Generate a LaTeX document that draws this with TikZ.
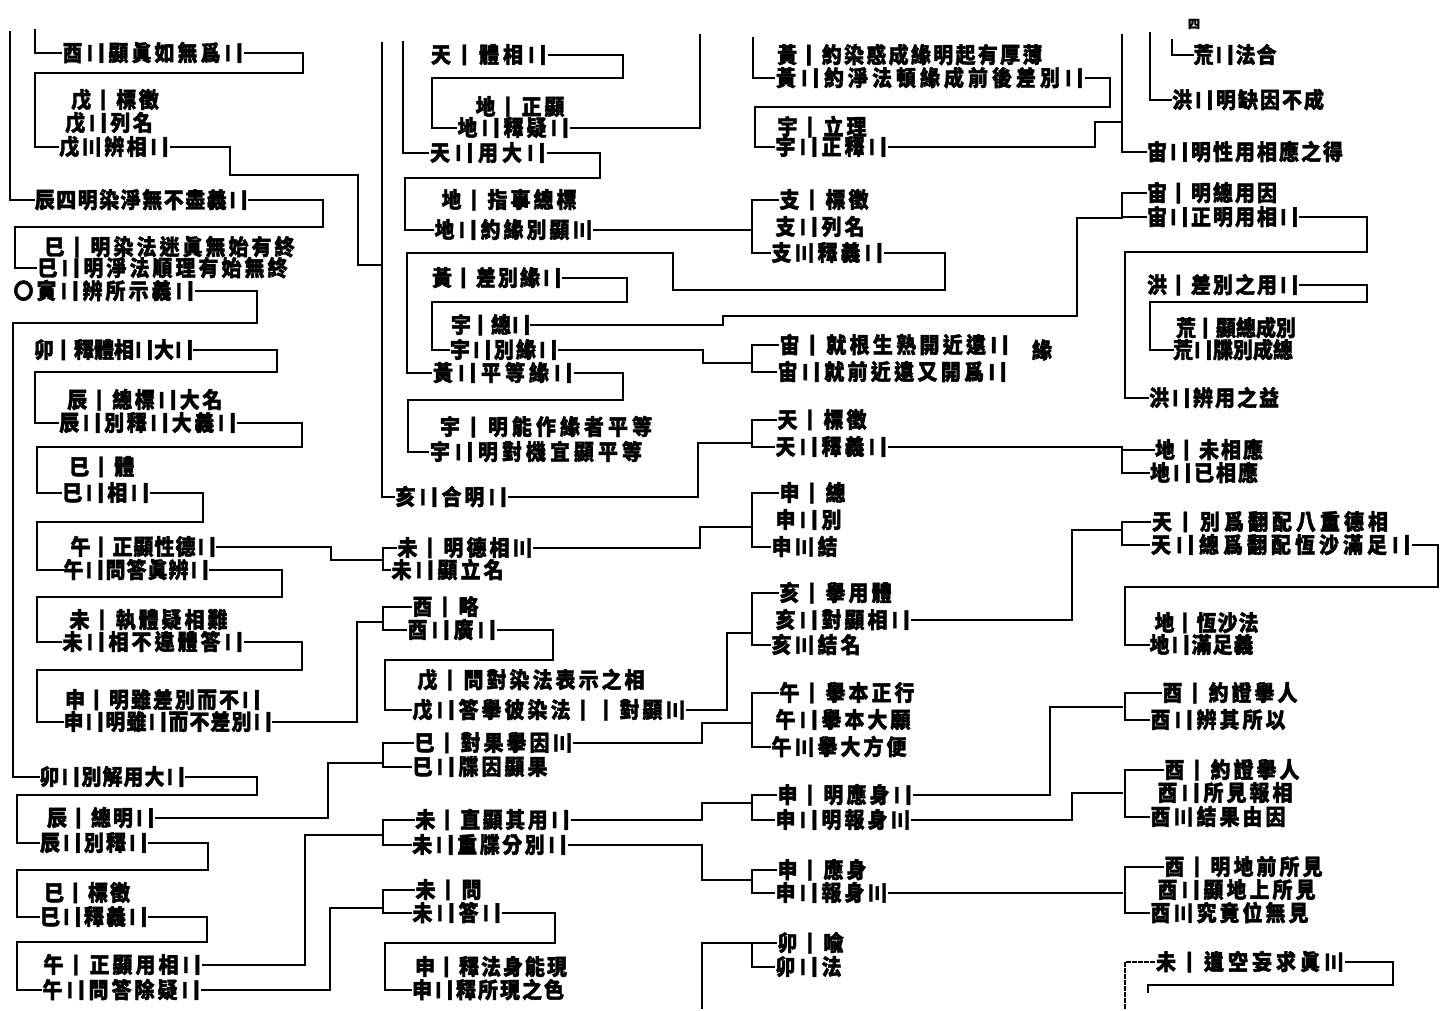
\documentclass[tikz,border=0pt]{standalone}
\usepackage{fontspec}
\newfontfamily\cjk{Noto Sans CJK TC}[FakeBold=1.8]
\newlength\cw
\setlength\cw{22.5pt}
\newcommand\numA{\rotatebox[origin=c]{90}{\vphantom{國}一}}
\newcommand\numB{\rotatebox[origin=c]{90}{\vphantom{國}二}}
\newcommand\numC{\rotatebox[origin=c]{90}{\vphantom{國}三}}
\makeatletter
\newcommand\crow[1]{\crow@#1\@nil}
\def\crow@#1{\ifx#1\@nil\else\makebox[\cw]{\scalebox{1}[1.1]{#1}}\expandafter\crow@\fi}
\makeatother
\tikzset{
  row/.style={anchor=west, inner sep=0pt, outer sep=0pt, font={\cjk\bfseries\fontsize{20pt}{20pt}\selectfont}},
  ln/.style={line width=1.6pt, line cap=rect},
}
\newcommand\R[4]{\node[row] (#1) at (#2) {\setlength\cw{#3pt}\crow{#4}};}
\begin{document}
\begin{tikzpicture}[x=1pt,y=-1pt]
\fill[white] (0,0) rectangle (1452,1011);
\useasboundingbox (0,0) rectangle (1452,1011);

% ---------------- column 1 ----------------
\R{c1a}{61,53}{23}{酉\numB 顯眞如無爲\numB}
\R{c1b1}{70,100}{22.5}{戊\numA 標徵}
\R{c1b2}{64,123}{22.5}{戊\numB 列名}
\R{c1b3}{58,147}{22.5}{戊\numC 辨相\numB}
\R{c1e}{34,200}{21.5}{辰四明染淨無不盡義\numB}
\R{c1f1}{43,247}{23}{巳\numA 明染法迷眞無始有終}
\R{c1f2}{36,268}{23}{巳\numB 明淨法順理有始無終}
\R{c1g}{12,291}{23}{〇寅\numB 辨所示義\numB}
\R{c1h}{34,350}{20}{卯\numA 釋體相\numB 大\numB}
\R{c1i1}{66,400}{22.5}{辰\numA 總標\numB 大名}
\R{c1i2}{58,423}{22.5}{辰\numB 別釋\numB 大義\numB}
\R{c1j1}{68,467}{22.5}{巳\numA 體}
\R{c1j2}{61,493}{22.5}{巳\numB 相\numB}
\R{c1k1}{70,547}{21}{午\numA 正顯性德\numB}
\R{c1k2}{63,570}{21}{午\numB 問答眞辨\numB}
\R{c1l1}{68,620}{23}{未\numA 執體疑相難}
\R{c1l2}{61,642}{23}{未\numB 相不違體答\numB}
\R{c1m1}{64,700}{22}{申\numA 明雖差別而不\numB}
\R{c1m2}{63,722}{21}{申\numB 明雖\numB 而不差別\numB}
\R{c1n}{39,777}{21}{卯\numB 別解用大\numB}
\R{c1o1}{46,818}{22}{辰\numA 總明\numB}
\R{c1o2}{39,843}{22}{辰\numB 別釋\numB}
\R{c1p1}{43,893}{22}{巳\numA 標徵}
\R{c1p2}{39,917}{22}{巳\numB 釋義\numB}
\R{c1q1}{42,965}{23}{午\numA 正顯用相\numB}
\R{c1q2}{41,990}{23}{午\numB 問答除疑\numB}

\draw[ln] (10,32) |- (c1e.west);
\draw[ln] (35,30) |- (c1a.west);
\draw[ln] (c1a.east) -| (303,73) -- (35,73) |- (c1b3.west);
\draw[ln] (c1b3.east) -| (230,175) -- (358,175) |- (382,265);
\draw[ln] (c1e.east) -| (323,227) -- (15,227) |- (c1f2.west);
\draw[ln] (c1g.east) -| (257,323) -- (13,323) |- (c1n.west);
\draw[ln] (c1h.east) -| (277,372) -- (35,372) |- (c1i2.west);
\draw[ln] (c1i2.east) -| (302,447) -- (37,447) |- (c1j2.west);
\draw[ln] (c1j2.east) -| (203,522) -- (37,522) |- (c1k2.west);
\draw[ln] (c1k1.east) -| (331,560) -- (383,560);
\draw[ln] (c1k2.east) -| (282,597) -- (37,597) |- (c1l2.west);
\draw[ln] (c1l2.east) -| (302,670) -- (37,670) |- (c1m2.west);
\draw[ln] (c1m2.east) -| (357,622) -- (383,622);
\draw[ln] (c1n.east) -| (257,795) -- (17,795) |- (c1o2.west);
\draw[ln] (c1o1.east) -| (328,763) -- (383,763);
\draw[ln] (c1o2.east) -| (208,870) -- (17,870) |- (c1p2.west);
\draw[ln] (c1p2.east) -| (207,942) -- (17,942) |- (c1q2.west);
\draw[ln] (c1q1.east) -| (305,835) -- (383,835);
\draw[ln] (c1q2.east) -| (330,908) -- (383,908);

% ---------------- column 2 ----------------
\R{c2a}{429,55}{24}{天\numA 體相\numB}
\R{c2b1}{474,107}{23}{地\numA 正顯}
\R{c2b2}{456,128}{23}{地\numB 釋疑\numB}
\R{c2c}{428,153}{24}{天\numB 用大\numB}
\R{c2d1}{440,200}{23}{地\numA 指事總標}
\R{c2d2}{433,230}{23}{地\numB 約緣別顯\numC}
\R{c2f}{431,278}{22}{黃\numA 差別緣\numB}
\R{c2h1}{451,325}{20}{宇\numA 總\numB}
\R{c2h2}{449,350}{22}{宇\numB 別緣\numB}
\R{c2g}{431,373}{24}{黃\numB 平等緣\numB}
\R{c2i1}{438,427}{24}{宇\numA 明能作緣者平等}
\R{c2i2}{428,452}{24}{宇\numB 明對機宜顯平等}
\R{c2j}{394,497}{23}{亥\numB 合明\numB}
\R{c2k1}{396,548}{23}{未\numA 明德相\numC}
\R{c2k2}{390,570}{23}{未\numB 顯立名}
\R{c2l1}{411,607}{23}{酉\numA 略}
\R{c2l2}{406,630}{23}{酉\numB 廣\numB}
\R{c2m1}{416,680}{23}{戊\numA 問對染法表示之相}
\R{c2m2}{411,710}{23}{戊\numB 答擧彼染法\numA\numA 對顯\numC}
\R{c2n1}{413,743}{23}{巳\numA 對果擧因\numC}
\R{c2n2}{411,767}{23}{巳\numB 牒因顯果}
\R{c2o1}{414,820}{22.5}{未\numA 直顯其用\numB}
\R{c2o2}{411,845}{22.5}{未\numB 重牒分別\numB}
\R{c2p1}{414,890}{23}{未\numA 問}
\R{c2p2}{411,913}{23}{未\numB 答\numB}
\R{c2q1}{414,967}{22}{申\numA 釋法身能現}
\R{c2q2}{411,990}{22}{申\numB 釋所現之色}

\draw[ln] (382,43) |- (c2j.west);
\draw[ln] (403,42) |- (c2c.west);
\draw[ln] (c2a.east) -| (623,78) -- (432,78) |- (c2b2.west);
\draw[ln] (c2b2.east) -| (700,35);
\draw[ln] (c2c.east) -| (600,178) -- (405,178) |- (c2d2.west);
\draw[ln] (c2d2.east) -- (752,230);
\draw[ln] (c2f.east) -| (627,302) -- (432,302) |- (c2h2.west);
\draw[ln] (c2h1.east) -| (723,316) -- (1077,316) |- (1122,218);
\draw[ln] (c2h2.east) -| (703,363) -- (752,363);
\draw[ln] (c2g.east) -| (623,400) -- (408,400) |- (c2i2.west);
\draw[ln] (c2j.east) -| (698,443) -- (752,443);
\draw[ln] (c2k1.west) -| (383,560) |- (c2k2.west);
\draw[ln] (c2k1.east) -| (700,527) -- (752,527);
\draw[ln] (c2l1.west) -| (383,622) |- (c2l2.west);
\draw[ln] (c2l2.east) -| (553,660) -- (385,660) |- (c2m2.west);
\draw[ln] (c2m2.east) -| (727,633) -- (752,633);
\draw[ln] (c2n1.west) -| (383,757) |- (c2n2.west);
\draw[ln] (c2n1.east) -| (702,723) -- (752,723);
\draw[ln] (c2o1.west) -| (383,832) |- (c2o2.west);
\draw[ln] (c2o1.east) -| (702,803) -- (752,803);
\draw[ln] (c2o2.east) -| (702,880) -- (752,880);
\draw[ln] (c2p1.west) -| (383,902) |- (c2p2.west);
\draw[ln] (c2p2.east) -| (555,943) -- (385,943) |- (c2q2.west);
\draw[ln] (702,1008) |- (752,943);

% ---------------- column 3 ----------------
\R{c3a1}{776,55}{22.3}{黃\numA 約染惑成緣明起有厚薄}
\R{c3a2}{774,78}{24}{黃\numB 約淨法頓緣成前後差別\numB}
\R{c3b1}{776,127}{23}{宇\numA 立理}
\R{c3b2}{774,147}{23}{宇\numB 正釋\numB}
\R{c3c1}{778,200}{23}{支\numA 標徵}
\R{c3c2}{774,227}{23}{支\numB 列名}
\R{c3c3}{770,253}{23}{支\numC 釋義\numB}
\R{c3d1}{778,345}{23.3}{宙\numA 就根生熟開近遠\numB}
\R{c3d3}{1031,350}{22}{緣}
\R{c3d2}{776,372}{23.3}{宙\numB 就前近遠又開爲\numB}
\R{c3e1}{776,420}{23}{天\numA 標徵}
\R{c3e2}{774,447}{23}{天\numB 釋義\numB}
\R{c3f1}{778,493}{23}{申\numA 總}
\R{c3f2}{774,520}{23}{申\numB 別}
\R{c3f3}{770,547}{23}{申\numC 結}
\R{c3g1}{778,593}{23}{亥\numA 擧用體}
\R{c3g2}{774,620}{23}{亥\numB 對顯相\numB}
\R{c3g3}{770,645}{23}{亥\numC 結名}
\R{c3h1}{778,693}{23}{午\numA 擧本正行}
\R{c3h2}{774,720}{23}{午\numB 擧本大願}
\R{c3h3}{770,747}{23}{午\numC 擧大方便}
\R{c3i1}{776,795}{23}{申\numA 明應身\numB}
\R{c3i2}{774,820}{23}{申\numB 明報身\numC}
\R{c3j1}{776,870}{23}{申\numA 應身}
\R{c3j2}{774,893}{23}{申\numB 報身\numC}
\R{c3k1}{776,943}{23}{卯\numA 喩}
\R{c3k2}{774,967}{23}{卯\numB 法}

\draw[ln] (753,38) |- (c3a2.west);
\draw[ln] (c3a2.east) -| (1110,107) -- (755,107) |- (c3b2.west);
\draw[ln] (c3b2.east) -| (1095,122) -- (1122,122);
\draw[ln] (c3c1.west) -| (752,230) |- (c3c3.west);
\draw[ln] (c3c3.east) -| (945,290) -- (673,290) |- (407,253) |- (c2g.west);
\draw[ln] (c3d1.west) -| (752,360) |- (c3d2.west);
\draw[ln] (c3e1.west) -| (752,440) |- (c3e2.west);
\draw[ln] (c3e2.east) -| (1122,455);
\draw[ln] (c3f1.west) -| (752,523) |- (c3f3.west);
\draw[ln] (c3g1.west) -| (752,633) |- (c3g3.west);
\draw[ln] (c3g2.east) -| (1072,530) -- (1122,530);
\draw[ln] (c3h1.west) -| (752,722) |- (c3h3.west);
\draw[ln] (c3i1.west) -| (752,803) |- (c3i2.west);
\draw[ln] (c3i1.east) -| (1050,707) -- (1122,707);
\draw[ln] (c3i2.east) -| (1072,793) -- (1122,793);
\draw[ln] (c3j1.west) -| (752,880) |- (c3j2.west);
\draw[ln] (c3j2.east) -- (1122,893);
\draw[ln] (c3k1.west) -| (752,955) |- (c3k2.west);

% ---------------- column 4 ----------------
\node[row, font={\cjk\bfseries\fontsize{12pt}{12pt}\selectfont}] (c4z) at (1188,24) {四};
\R{c4a}{1193,55}{21}{荒\numB 法合}
\R{c4b}{1171,100}{22}{洪\numB 明缺因不成}
\R{c4c}{1146,152}{22}{宙\numB 明性用相應之得}
\R{c4d1}{1146,193}{22}{宙\numA 明總用因}
\R{c4d2}{1146,217}{22}{宙\numB 正明用相\numB}
\R{c4e}{1146,285}{22}{洪\numA 差別之用\numB}
\R{c4f1}{1176,328}{20}{荒\numA 顯總成別}
\R{c4f2}{1173,350}{20}{荒\numB 牒別成總}
\R{c4g}{1148,398}{22}{洪\numB 辨用之益}
\R{c4h1}{1154,450}{22}{地\numA 未相應}
\R{c4h2}{1149,473}{22}{地\numB 已相應}
\R{c4i1}{1150,522}{24}{天\numA 別爲翻配八重德相}
\R{c4i2}{1149,545}{24}{天\numB 總爲翻配恆沙滿足\numB}
\R{c4j1}{1154,623}{21}{地\numA 恆沙法}
\R{c4j2}{1149,645}{21}{地\numB 滿足義}
\R{c4k1}{1161,693}{23}{酉\numA 約證擧人}
\R{c4k2}{1149,720}{23}{酉\numB 辨其所以}
\R{c4l1}{1163,770}{23}{酉\numA 約證擧人}
\R{c4l2}{1156,793}{23}{酉\numB 所見報相}
\R{c4l3}{1149,817}{23}{酉\numC 結果由因}
\R{c4m1}{1163,867}{23}{酉\numA 明地前所見}
\R{c4m2}{1156,890}{23}{酉\numB 顯地上所見}
\R{c4m3}{1149,913}{23}{酉\numC 究竟位無見}
\R{c4n}{1154,962}{24}{未\numA 遣空妄求眞\numC}

\draw[ln] (1122,35) |- (c4c.west);
\draw[ln] (1150,33) |- (c4b.west);
\draw[ln] (1172,40) |- (c4a.west);
\draw[ln] (c4d1.west) -| (1122,205) |- (c4d2.west);
\draw[ln] (c4d2.east) -| (1367,252) -- (1125,252) |- (c4g.west);
\draw[ln] (c4e.east) -| (1367,302) -- (1150,302) |- (c4f2.west);
\draw[ln] (c4h1.west) -| (1122,460) |- (c4h2.west);
\draw[ln] (c4i1.west) -| (1122,533) |- (c4i2.west);
\draw[ln] (c4i2.east) -| (1438,587) -- (1125,587) |- (c4j2.west);
\draw[ln] (c4k1.west) -| (1125,707) |- (c4k2.west);
\draw[ln] (c4l1.west) -| (1125,793) |- (c4l3.west);
\draw[ln] (c4m1.west) -| (1125,893) |- (c4m3.west);
\draw[ln,dashed] (1125,1008) |- (c4n.west);
\draw[ln] (c4n.east) -| (1393,985) -- (1148,985) -- (1148,992);
\end{tikzpicture}
\end{document}
